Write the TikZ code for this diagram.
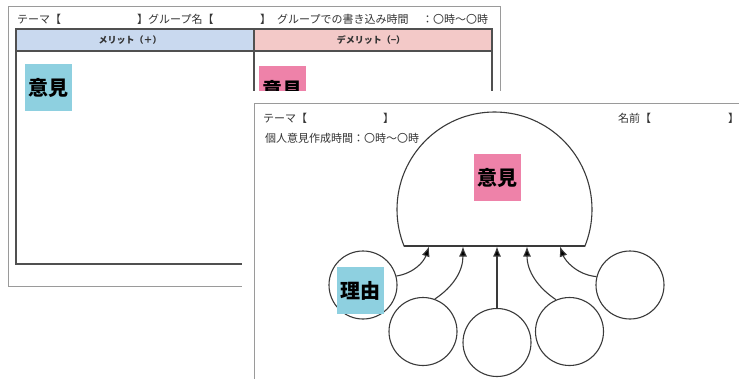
\documentclass[tikz,border=0pt]{standalone}
\usepackage{fontspec}
\setmainfont{Noto Sans CJK JP}
\usetikzlibrary{arrows.meta}
\definecolor{pagegray}{HTML}{9A9A9A}
\definecolor{tblline}{HTML}{505050}
\definecolor{hdrblue}{HTML}{C9D9EF}
\definecolor{hdrpink}{HTML}{F3C9C8}
\definecolor{noteblue}{HTML}{8ED0E0}
\definecolor{notepink}{HTML}{EE82A9}
\definecolor{txt}{HTML}{333333}
\definecolor{ink}{HTML}{3A3A3A}
\tikzset{
  lbl/.style={anchor=west, inner sep=0pt, text=txt, font=\fontsize{11}{13}\selectfont},
  hdr/.style={inner sep=0pt, text=txt, font=\fontsize{9}{11}\selectfont\bfseries},
  note/.style={minimum size=47pt, inner sep=0pt, font=\fontsize{20}{22}\selectfont\bfseries},
  bub/.style={circle, draw=ink, line width=1.1pt, fill=white, minimum size=68pt, inner sep=0pt},
  arr/.style={draw=ink, line width=1.1pt, -{Latex[length=10pt,width=8pt,fill=black]}},
}
\begin{document}
\begin{tikzpicture}[x=1pt,y=-1pt]
\useasboundingbox (0,0) rectangle (739,378);
\fill[white] (0,0) rectangle (739,378);
% back page
\draw[pagegray, line width=0.8pt] (8,6) rectangle (500,286);
\node[lbl] (b1) at (17,19) {テーマ【};
\node[lbl] (b2) at (137,19) {】グループ名【};
\node[lbl] (b3) at (260,19) {】};
\node[lbl] (b4) at (277,19) {グループでの書き込み時間};
\node[lbl] (b5) at (422,19) {：〇時〜〇時};
\fill[hdrblue] (16,29) rectangle (254,51);
\fill[hdrpink] (254,29) rectangle (492,51);
\draw[tblline, line width=1.4pt] (16,29) rectangle (492,264);
\draw[tblline, line width=1.4pt] (254,29) -- (254,264);
\draw[tblline, line width=1.4pt] (16,51) -- (492,51);
\node[hdr] (h1) at (130,40) {メリット（＋）};
\node[hdr] (h2) at (371,40) {デメリット（−）};
\node[note, fill=noteblue] (n1) at (48,87.5) {意見};
\node[note, fill=notepink] (n2) at (282.5,89.5) {意見};
% front page
\fill[white] (242,91) rectangle (739,378);
\draw[pagegray, line width=0.8pt] (739.5,103) -- (254,103) -- (254,378.5);
\node[lbl] (f1) at (263,118) {テーマ【};
\node[lbl] (f2) at (383,118) {】};
\node[lbl] (f3) at (618,118) {名前【};
\node[lbl] (f4) at (728,118) {】};
\node[lbl] (f5) at (265,138) {個人意見作成時間：〇時〜〇時};
% dome
\begin{scope}
\clip (300,100) rectangle (700,246);
\node[circle, draw=ink, line width=1.1pt, minimum size=195pt, inner sep=0pt] (dome) at (494.5,209.5) {};
\end{scope}
\coordinate (dl) at (404.1,246);
\coordinate (dr) at (584.9,246);
\draw[ink, line width=1.1pt] (dl) -- (dr);
\node[note, fill=notepink] (n3) at (497.5,177.5) {意見};
% bubbles
\node[bub] (c1) at (363,285) {};
\node[bub] (c2) at (423,331.5) {};
\node[bub] (c3) at (497,342.5) {};
\node[bub] (c4) at (569.5,331.5) {};
\node[bub] (c5) at (630,285) {};
\node[note, fill=noteblue] (n4) at (360.5,290.5) {理由};
\coordinate (t1) at (429,246.5);
\coordinate (t2) at (463,246.5);
\coordinate (t3) at (497,246.5);
\coordinate (t4) at (527,246.5);
\coordinate (t5) at (560,246.5);
\draw[arr] (c1.15) .. controls +(18,-3) and +(-5,15) .. (t1);
\draw[arr] (c2.70) .. controls +(18,-12) and +(0,25) .. (t2);
\draw[arr] (c3.north) -- (t3);
\draw[arr] (c4.113) .. controls +(-18,-12) and +(0,25) .. (t4);
\draw[arr] (c5.166) .. controls +(-20,-2) and +(5,14) .. (t5);
\end{tikzpicture}
\end{document}
